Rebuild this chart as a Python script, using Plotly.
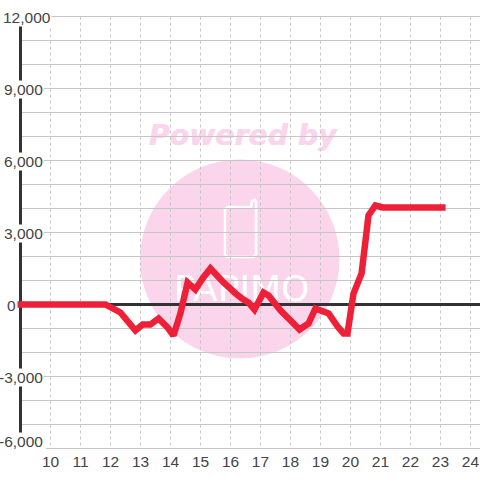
import plotly.graph_objects as go

hours = [8.9, 11.83, 12.33, 12.83, 13.07, 13.33, 13.6, 13.9, 14.1, 14.33, 14.57, 14.83, 15.07, 15.33, 15.77,
         16.17, 16.43, 16.6, 16.8, 17.1, 17.27, 17.67, 18.07, 18.3, 18.6, 18.83, 19.27, 19.57, 19.77, 19.9,
         20.1, 20.37, 20.6, 20.83, 21.07, 23.17]
values = [0, 0, -333, -1083, -833, -833, -583, -958, -1292, -375, 917, 625, 1083, 1500, 917,
          458, 208, 83, -208, 500, 375, -250, -750, -1042, -792, -167, -375, -917, -1208, -1208,
          458, 1292, 3708, 4125, 4042, 4042]
x_ticks = list(range(10, 25))
y_ticks = [12000, 9000, 6000, 3000, 0, -3000, -6000]
y_grid = list(range(-6000, 12001, 1000))
X_AXIS, X_MIN, X_MAX, Y_MIN, Y_MAX = 9.0, 8.65, 24.317, -6020.8, 12020.8

PINK = "#fbd5ec"
GRID = "#c6c6c6"
INK = "#333333"
TEXT = "#444444"
FONT = "Liberation Sans"
PL, PR, PT, PB = 10, 480, 16, 449


def px(xp):
    return (xp - PL) / (PR - PL)


def py(yp):
    return (PB - yp) / (PB - PT)


fig = go.Figure()

fig.add_trace(go.Scatter(x=[16.4], y=[6937], mode="text", text=["Powered by"], hoverinfo="skip",
                         textfont=dict(family="DejaVu Sans", size=28.3, color=PINK, weight="bold", style="italic",
                                       shadow="0.6px 0 0 #fbd5ec")))
fig.add_trace(go.Scatter(x=[16.37], y=[530], mode="text", text=["PAPIMO"], hoverinfo="skip",
                         textfont=dict(family="DejaVu Sans ExtraLight, DejaVu Sans", size=36, color="white")))

hx, hy = [], []
for v in y_grid:
    hx += [9.85 if v == -6000 else X_AXIS, X_MAX, None]
    hy += [v, v, None]
fig.add_trace(go.Scatter(x=hx, y=hy, mode="lines", line=dict(color=GRID, width=1), hoverinfo="skip"))
vx, vy = [], []
for t in x_ticks:
    vx += [t, t, None]
    vy += [12000, -6000, None]
fig.add_trace(go.Scatter(x=vx, y=vy, mode="lines", line=dict(color=GRID, width=1, dash="3px,3px"), hoverinfo="skip"))
fig.add_trace(go.Scatter(x=[X_AXIS, X_MAX], y=[0, 0], mode="lines", line=dict(color=INK, width=3), hoverinfo="skip"))
fig.add_trace(go.Scatter(x=[X_AXIS, X_AXIS], y=[-5500, 12000], mode="lines", line=dict(color=INK, width=3),
                         hoverinfo="skip"))

fig.add_trace(go.Scatter(x=hours, y=values, mode="lines", line=dict(color="#ee2038", width=6.5, simplify=False),
                         hoverinfo="skip"))

right_edge = {12000: 51.5, 0: 16.5}
annotations = [dict(xref="paper", yref="y", x=0, xshift=right_edge.get(v, 43.5) - PL, y=v,
                    yshift=7 if v == -6000 else -1,
                    text=f"{v:,}", showarrow=False, xanchor="right",
                    yanchor="middle", bgcolor="white", borderpad=0,
                    font=dict(family=FONT, size=15.5, color=TEXT)) for v in y_ticks]

shapes = [
    dict(type="circle", xref="paper", yref="paper", layer="below", fillcolor=PINK, line_width=0,
         x0=px(140), x1=px(339.5), y0=py(358.5), y1=py(159.5)),
    dict(type="path", xref="paper", yref="paper", layer="below", line=dict(color="white", width=2.5),
         path=" ".join(f"{c} {px(a)} {py(b)}" for c, a, b in [
             ("M", 228, 207), ("L", 251, 207), ("L", 252, 201), ("L", 255, 200), ("L", 256, 202), ("L", 256, 254),
             ("L", 254, 257), ("L", 227, 257), ("L", 225, 254), ("L", 225, 209)]) + " Z"),
]

fig.update_layout(
    width=480, height=480, autosize=False, showlegend=False,
    margin=dict(l=PL, r=480 - PR, t=PT, b=480 - PB),
    paper_bgcolor="white", plot_bgcolor="rgba(0,0,0,0)",
    font=dict(family=FONT, size=15.5, color=TEXT),
    shapes=shapes, annotations=annotations,
    xaxis=dict(range=[X_MIN, X_MAX], tickmode="array", tickvals=x_ticks, ticktext=[str(t) for t in x_ticks],
               showgrid=False, zeroline=False, showline=False, ticks="", ticklen=0, ticklabelstandoff=1,
               tickfont=dict(family=FONT, size=15.5, color=TEXT), fixedrange=True),
    yaxis=dict(range=[Y_MIN, Y_MAX], showgrid=False, zeroline=False, showline=False, showticklabels=False,
               ticks="", fixedrange=True),
)
fig.write_html("out.html", config={"displayModeBar": False},
               post_script="document.body.style.margin='0';")
